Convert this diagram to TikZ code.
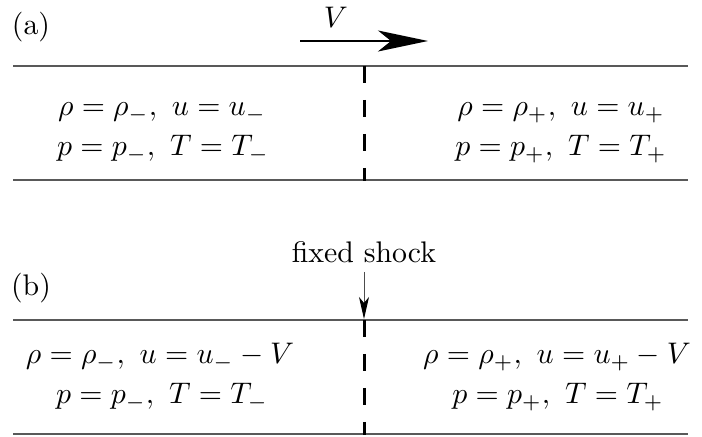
\documentclass[tikz,border=0pt]{standalone}
\usetikzlibrary{arrows.meta}
\newcommand{\bigtxt}[1]{\scalebox{1.49}{#1}}
\begin{document}
\begin{tikzpicture}[x=0.5pt,y=-0.5pt,
  every node/.style={font=\fontsize{10}{12}\selectfont, inner sep=0pt, outer sep=0pt},
  wall/.style={black!65, line width=0.7pt},
  shockline/.style={line width=1.5pt, dash pattern=on 8.5pt off 8.5pt},
  bigarrow/.style={line width=1pt, -{Stealth[length=25pt, width=10.5pt, inset=6.5pt]}},
  smallarrow/.style={black!70, line width=0.5pt, -{Stealth[length=11pt, width=5pt, inset=3pt, black]}},
  lbl/.style={anchor=base}]
\useasboundingbox (0,0) rectangle (702,437);
% (a)
\node[lbl] (la) at (31,35) {\bigtxt{(a)}};
\node[lbl] (V) at (336,28) {\bigtxt{$V$}};
\coordinate (va) at (300,41);
\coordinate (vb) at (428,41);
\draw[bigarrow] (va) -- (vb);
\coordinate (a1) at (13,66); \coordinate (a2) at (688,66);
\coordinate (a3) at (13,180); \coordinate (a4) at (688,180);
\draw[wall] (a1) -- (a2);
\draw[wall] (a3) -- (a4);
\coordinate (sa1) at (364,66); \coordinate (sa2) at (364,181);
\draw[shockline] (sa1) -- (sa2);
\node[lbl] (aL1) at (162,116) {\bigtxt{$\rho=\rho_-,\ u=u_-$}};
\node[lbl] (aL2) at (163,156) {\bigtxt{$p=p_-,\ T=T_-$}};
\node[lbl] (aR1) at (561,116) {\bigtxt{$\rho=\rho_+,\ u=u_+$}};
\node[lbl] (aR2) at (561,156) {\bigtxt{$p=p_+,\ T=T_+$}};
% (b)
\node[lbl] (lb) at (31,296) {\bigtxt{(b)}};
\node[lbl] (fs) at (364,263) {\bigtxt{fixed shock}};
\coordinate (fsa) at (364,272);
\coordinate (fsb) at (364,319);
\draw[smallarrow] (fsa) -- (fsb);
\coordinate (b1) at (13,320); \coordinate (b2) at (688,320);
\coordinate (b3) at (13,434); \coordinate (b4) at (688,434);
\draw[wall] (b1) -- (b2);
\draw[wall] (b3) -- (b4);
\coordinate (sb1) at (364,320); \coordinate (sb2) at (364,435);
\draw[shockline] (sb1) -- (sb2);
\node[lbl] (bL1) at (160,364) {\bigtxt{$\rho=\rho_-,\ u=u_--V$}};
\node[lbl] (bL2) at (162,404) {\bigtxt{$p=p_-,\ T=T_-$}};
\node[lbl] (bR1) at (557,364) {\bigtxt{$\rho=\rho_+,\ u=u_+-V$}};
\node[lbl] (bR2) at (558,404) {\bigtxt{$p=p_+,\ T=T_+$}};
\end{tikzpicture}
\end{document}
